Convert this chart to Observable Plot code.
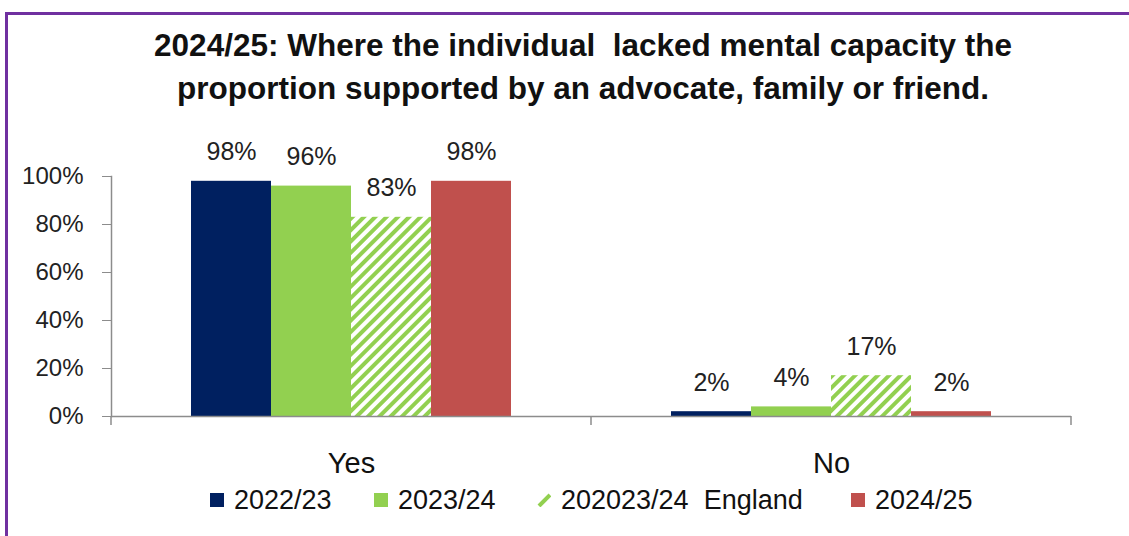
<!DOCTYPE html>
<html><head><meta charset="utf-8">
<script src="https://cdn.jsdelivr.net/npm/d3@7"></script>
<script src="https://cdn.jsdelivr.net/npm/@observablehq/plot@0.6"></script>
<style>
html,body{margin:0;padding:0;background:#fff;}
#wrap{position:relative;width:1129px;height:536px;overflow:hidden;font-family:"Liberation Sans",Arial,sans-serif;}
#border{position:absolute;left:5px;top:12px;width:1300px;height:700px;border-top:3px solid #7030A0;border-left:3px solid #7030A0;box-sizing:border-box;}
#title{position:absolute;left:0;top:24px;width:1166px;text-align:center;font-weight:bold;font-size:31.5px;line-height:43px;color:#111;white-space:nowrap;}
#chart{position:absolute;left:0;top:0;}
#legend{position:absolute;top:486px;left:0;width:1129px;height:28px;font-size:27px;color:#111;}
.item{position:absolute;top:0;height:28px;display:flex;align-items:center;white-space:pre;}
.sw{width:14px;height:14px;margin-right:10px;flex:none;}
</style>
</head><body>
<div id="wrap">
  <div id="border"></div>
  <div id="chart"></div>
  <div id="title">2024/25: Where the individual&nbsp; lacked mental capacity the<br>proportion supported by an advocate, family or friend.</div>
  <div id="legend"></div>
</div>
<script>
const categories = ["Yes", "No"];
const series = ["2022/23", "2023/24", "202023/24  England", "2024/25"];
const values2022 = [98, 2];
const values2023 = [96, 4];
const valuesEngland = [83, 17];
const values2024 = [98, 2];
const seriesColors = ["#002060", "#92D050", "url(#hatch)", "#C0504D"];
const yTicks = [0, 20, 40, 60, 80, 100];

const seriesValues = [values2022, values2023, valuesEngland, values2024];
const data = [];
categories.forEach((c, ci) => series.forEach((s, si) => data.push({category: c, series: s, value: seriesValues[si][ci]})));

const chart = Plot.plot({
  width: 1129, height: 480,
  marginLeft: 110, marginRight: 58, marginTop: 176, marginBottom: 64,
  style: {fontFamily: "Liberation Sans, Arial, sans-serif", background: "transparent", overflow: "visible"},
  fx: {domain: categories, paddingInner: 0, paddingOuter: 0, label: null},
  x: {domain: series, paddingInner: 0, paddingOuter: 1, axis: null},
  y: {domain: [0, 100]},
  color: {type: "ordinal", domain: series, range: seriesColors},
  marks: [
    Plot.barY(data, {fx: "category", x: "series", y: "value", fill: "series"}),
    Plot.ruleY([0], {stroke: "#8c8c8c", strokeWidth: 1.5}),
    Plot.frame({anchor: "left", stroke: "#8c8c8c", strokeWidth: 1.5, facetAnchor: "left"}),
    Plot.text(data, {fx: "category", x: "series", y: "value", text: d => d.value + "%", dy: -29, fontSize: 25, fill: "#222"}),
    Plot.axisY({ticks: yTicks, tickFormat: d => d + "%", tickSize: 9, tickPadding: 19, fontSize: 24, stroke: "#8c8c8c", color: "#222", label: null}),
    Plot.axisFx({anchor: "bottom", tickSize: 0, tickPadding: 36, fontSize: 29, color: "#111", label: null})
  ]
});
document.getElementById("chart").appendChild(chart);

const svg = d3.select(chart);
const defs = svg.insert("defs", ":first-child");
const p = defs.append("pattern").attr("id", "hatch").attr("patternUnits", "userSpaceOnUse")
  .attr("width", 8).attr("height", 8).attr("patternTransform", "rotate(45)");
p.append("rect").attr("width", 8).attr("height", 8).attr("fill", "#fff");
p.append("rect").attr("width", 4).attr("height", 8).attr("fill", "#92D050");

// x-axis category boundary ticks from the fx scale
const fxs = chart.scale("fx");
const ys = chart.scale("y");
const fxApply = fxs.apply ? fxs.apply : d3.scaleBand().domain(fxs.domain).range(fxs.range).paddingInner(fxs.paddingInner || 0).paddingOuter(fxs.paddingOuter || 0);
const bw = fxs.bandwidth;
const edges = categories.map(c => fxApply(c)).concat([fxApply(categories[categories.length - 1]) + bw]);
const y0 = ys.apply ? ys.apply(0) : 416;
svg.append("g").selectAll("line").data(edges).join("line")
  .attr("x1", d => d).attr("x2", d => d).attr("y1", y0).attr("y2", y0 + 9)
  .attr("stroke", "#8c8c8c").attr("stroke-width", 1.5);

// legend
const legendLeft = [210, 374, 537, 851];
const legend = d3.select("#legend");
series.forEach((s, i) => {
  const it = legend.append("div").attr("class", "item").style("left", legendLeft[i] + "px");
  const sw = it.append("svg").attr("class", "sw").attr("width", 14).attr("height", 14);
  if (i === 2) {
    sw.append("line").attr("x1", 2).attr("y1", 13).attr("x2", 13).attr("y2", 2)
      .attr("stroke", "#92D050").attr("stroke-width", 4);
  } else {
    sw.append("rect").attr("width", 14).attr("height", 14).attr("fill", seriesColors[i]);
  }
  it.append("span").text(s);
});
</script>
</body></html>
